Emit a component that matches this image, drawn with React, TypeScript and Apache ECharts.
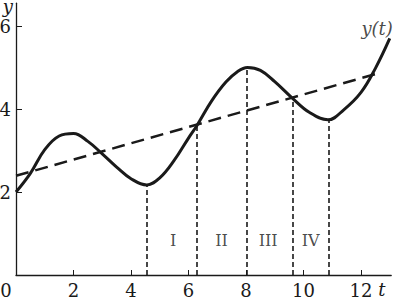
import React, { useEffect, useRef } from "react";
import * as echarts from "echarts";

const curveT = [0, 0.5, 1.0, 1.5, 2.0, 2.5, 3.0, 3.5, 4.0, 4.55, 5.0, 5.5, 6.0, 6.3, 6.8, 7.3, 7.7, 8.05, 8.5, 9.0, 9.6, 10.2, 10.85, 11.4, 12.0, 12.5, 13.0];
const curveY = [2.0, 2.45, 3.02, 3.35, 3.41, 3.22, 2.92, 2.6, 2.32, 2.17, 2.34, 2.76, 3.3, 3.61, 4.19, 4.65, 4.9, 5.0, 4.93, 4.66, 4.27, 3.92, 3.74, 3.98, 4.4, 4.98, 5.7];

const trendT = [0, 12.7];
const trendY = [2.39, 4.88];

const dropT = [4.55, 6.3, 8.03, 9.62, 10.88];
const dropY = [2.17, 3.61, 5.0, 4.27, 3.74];

const romanNames = ["I", "II", "III", "IV"];
const romanT = [5.47, 7.15, 8.77, 10.25];
const romanY = [0.82, 0.82, 0.82, 0.82];

const curveName = "y(t)";
const curveLabelT = 12.56;
const curveLabelY = 5.95;

const xTicks = [0, 2, 4, 6, 8, 10, 12];
const yTicks = [2, 4, 6];

const INK = "#1a1a1a";
const SERIF = "DejaVu Serif";

export default function App() {
  const ref = useRef<HTMLDivElement>(null);
  useEffect(() => {
    if (!ref.current) return;
    const chart = echarts.init(ref.current, undefined, { renderer: "svg" });
    chart.setOption({
      animation: false,
      grid: { left: 16, right: 3.8, top: 3.2, bottom: 24, containLabel: false, outerBoundsMode: "none" },
      xAxis: {
        type: "value",
        min: 0,
        max: 13.05,
        name: "t",
        nameLocation: "end",
        nameGap: -14,
        nameTextStyle: {
          fontFamily: SERIF,
          fontStyle: "italic",
          fontSize: 18,
          color: INK,
          verticalAlign: "top",
          padding: [5, 0, 0, 0],
        },
        axisLine: { show: true, onZero: false, lineStyle: { color: INK, width: 1.3 } },
        axisTick: { show: true, inside: true, length: 5, customValues: xTicks, lineStyle: { color: INK, width: 1 } },
        axisLabel: {
          customValues: xTicks,
          margin: 6,
          fontFamily: SERIF,
          fontSize: 18,
          color: INK,
          formatter: (v: number) => (v === 0 ? "{o|0}" : String(v)),
          rich: { o: { fontFamily: SERIF, fontSize: 18, color: INK, padding: [0, 20, 0, 0] } },
        },
        splitLine: { show: false },
      },
      yAxis: {
        type: "value",
        min: 0,
        max: 6.55,
        name: "y",
        nameLocation: "end",
        nameGap: 3.2,
        nameTextStyle: {
          fontFamily: SERIF,
          fontStyle: "italic",
          fontSize: 18,
          lineHeight: 12,
          color: INK,
          align: "right",
          verticalAlign: "top",
          padding: [0, 3, 0, 0],
        },
        axisLine: { show: true, onZero: false, lineStyle: { color: INK, width: 1.3 } },
        axisTick: { show: true, inside: true, length: 6, customValues: yTicks, lineStyle: { color: INK, width: 1 } },
        axisLabel: { customValues: yTicks, margin: 5, fontFamily: SERIF, fontSize: 18, color: INK },
        splitLine: { show: false },
      },
      series: [
        {
          type: "line",
          data: trendT.map((t, i) => [t, trendY[i]]),
          symbol: "none",
          lineStyle: { color: INK, width: 2.5, type: [13, 7] },
          z: 2,
        },
        {
          type: "line",
          data: curveT.map((t, i) => [t, curveY[i]]),
          symbol: "none",
          smooth: 0.4,
          lineStyle: { color: INK, width: 3 },
          z: 3,
          markLine: {
            silent: true,
            symbol: "none",
            label: { show: false },
            lineStyle: { color: INK, width: 1.6, type: [5, 3] },
            data: dropT.map((t, i) => [{ coord: [t, 0] }, { coord: [t, dropY[i]] }]),
          },
        },
        {
          type: "scatter",
          symbolSize: 0,
          data: romanT.map((t, i) => ({ name: romanNames[i], value: [t, romanY[i]] })),
          label: {
            show: true,
            position: "inside",
            formatter: (p: any) => p.name,
            fontFamily: SERIF,
            fontSize: 16,
            color: INK,
          },
        },
        {
          type: "scatter",
          symbolSize: 0,
          data: [{ name: curveName, value: [curveLabelT, curveLabelY] }],
          label: {
            show: true,
            position: "inside",
            formatter: (p: any) => p.name,
            fontFamily: SERIF,
            fontStyle: "italic",
            fontSize: 18,
            color: INK,
          },
        },
      ],
    });
    return () => chart.dispose();
  }, []);
  return <div ref={ref} style={{ width: 395, height: 299, position: "absolute", left: 0, top: 0 }} />;
}
